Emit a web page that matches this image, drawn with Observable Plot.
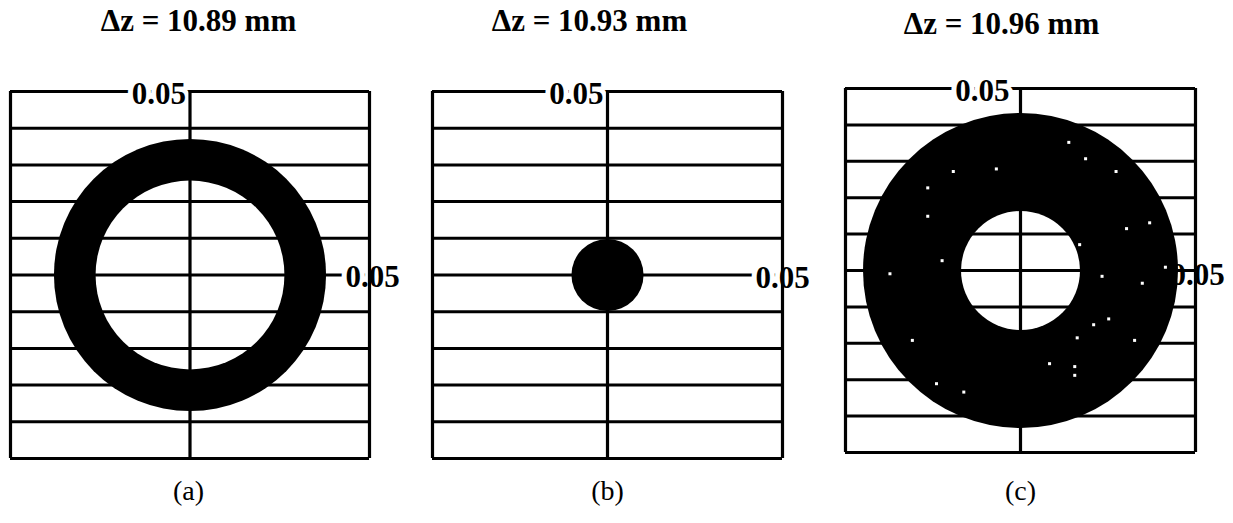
<!DOCTYPE html>
<html>
<head>
<meta charset="utf-8">
<script src="https://cdn.jsdelivr.net/npm/d3@7"></script>
<script src="https://cdn.jsdelivr.net/npm/@observablehq/plot@0.6"></script>
<style>
  body { margin: 0; background: white; }
  #chart { position: relative; width: 1233px; height: 523px; background: white; }
  #chart svg { position: absolute; top: 0; }
</style>
</head>
<body>
<div id="chart"></div>
<script>
// Spot diagrams at three detector offsets Δz (mm); coordinates in the image plane.
const panelNames = ["(a)", "(b)", "(c)"];
const deltaZ = [10.89, 10.93, 10.96];
const outerRadius = [0.0379, 0.0103, 0.0450];
const innerRadius = [0.0263, 0, 0.0170];
const gridTicks = [-0.05, -0.04, -0.03, -0.02, -0.01, 0, 0.01, 0.02, 0.03, 0.04, 0.05];
const axisLimit = 0.05;
const axisLabel = "0.05";

// Unlit gaps scattered through the broad ring of panel (c)
const gapX = [0.0138, 0.0186, -0.0192, -0.0069, 0.0273, -0.0265, -0.0265, 0.0303, 0.0369, 0.0169,
              -0.0224, -0.0373, 0.0233, 0.0348, 0.0252, 0.0209, 0.0162, -0.0309, 0.0326, 0.0083,
              0.0155, 0.0155, -0.0240, -0.0162, 0.0414];
const gapY = [0.0352, 0.0307, 0.0272, 0.0279, 0.0272, 0.0227, 0.0149, 0.0115, 0.0131, 0.0071,
              0.0027, -0.0009, -0.0016, -0.0035, -0.0133, -0.0149, -0.0185, -0.0192, -0.0192, -0.0256,
              -0.0264, -0.0288, -0.0311, -0.0334, 0.0009];

// Per-panel layout: svg offset, margins and text nudges
const layout = [
  {left: 0,   ml: 10, mr: 42, mt: 91, mb: 65, title: [8.5, -61], cap: [-1.5, 41], top: -4, right: [3, 2]},
  {left: 411, ml: 21, mr: 40, mt: 91, mb: 65, title: [-18, -61], cap: [0, 41], top: -4, right: [0, 3]},
  {left: 822, ml: 23, mr: 38, mt: 88, mb: 71, title: [-19, -55], cap: [0, 47], top: -11, right: [2, 5]}
];

const W = 411, H = 523;
const font = "Liberation Serif";
const chart = document.getElementById("chart");

panelNames.forEach((name, i) => {
  const L = layout[i];
  const halfPx = (W - L.ml - L.mr) / 2;
  const spot = [{x: 0, y: 0, outer: outerRadius[i], inner: innerRadius[i]}];
  const gaps = i === 2 ? gapX.map((x, k) => ({x, y: gapY[k]})) : [];
  const labelUnderRing = i === 2;

  const labelStyle = {
    fontFamily: font, fontWeight: "bold", fontSize: 31, lineAnchor: "middle",
    stroke: "white", strokeWidth: 10, paintOrder: "stroke", fill: "black"
  };
  const rightLabel = Plot.text([{x: axisLimit, y: 0}], {
    x: "x", y: "y", text: () => axisLabel, ...labelStyle,
    textAnchor: "middle", dx: L.right[0], dy: L.right[1]
  });
  const topLabel = Plot.text([{x: 0, y: axisLimit}], {
    x: "x", y: "y", text: () => axisLabel, ...labelStyle,
    textAnchor: "end", dx: L.top, dy: 3
  });

  const svg = Plot.plot({
    width: W,
    height: H,
    marginLeft: L.ml,
    marginRight: L.mr,
    marginTop: L.mt,
    marginBottom: L.mb,
    style: {background: "white", overflow: "visible"},
    x: {domain: [-axisLimit, axisLimit], axis: null},
    y: {domain: [-axisLimit, axisLimit], axis: null},
    r: {type: "linear", domain: [0, axisLimit], range: [0, halfPx]},
    marks: [
      labelUnderRing ? rightLabel : null,
      Plot.dot(spot, {x: "x", y: "y", r: "outer", fill: "black", stroke: "none"}),
      Plot.dot(spot.filter(d => d.inner > 0), {x: "x", y: "y", r: "inner", fill: "white", stroke: "none"}),
      Plot.ruleY(gridTicks, {stroke: "black", strokeWidth: 3}),
      labelUnderRing ? null : rightLabel,
      topLabel,
      Plot.ruleX([-axisLimit, 0, axisLimit], {stroke: "black", strokeWidth: 3.2}),
      Plot.dot(gaps, {x: "x", y: "y", symbol: "square", r: 1.7, fill: "white", stroke: "none"}),
      Plot.text([deltaZ[i]], {
        frameAnchor: "top", text: d => `Δz = ${d.toFixed(2)} mm`,
        fontFamily: font, fontWeight: "bold", fontSize: 31,
        lineAnchor: "bottom", dx: L.title[0], dy: L.title[1], fill: "black"
      }),
      Plot.text([name], {
        frameAnchor: "bottom", text: d => d,
        fontFamily: font, fontSize: 28,
        lineAnchor: "bottom", dx: L.cap[0], dy: L.cap[1], fill: "black"
      })
    ]
  });
  svg.style.left = L.left + "px";
  chart.appendChild(svg);
});
</script>
</body>
</html>
